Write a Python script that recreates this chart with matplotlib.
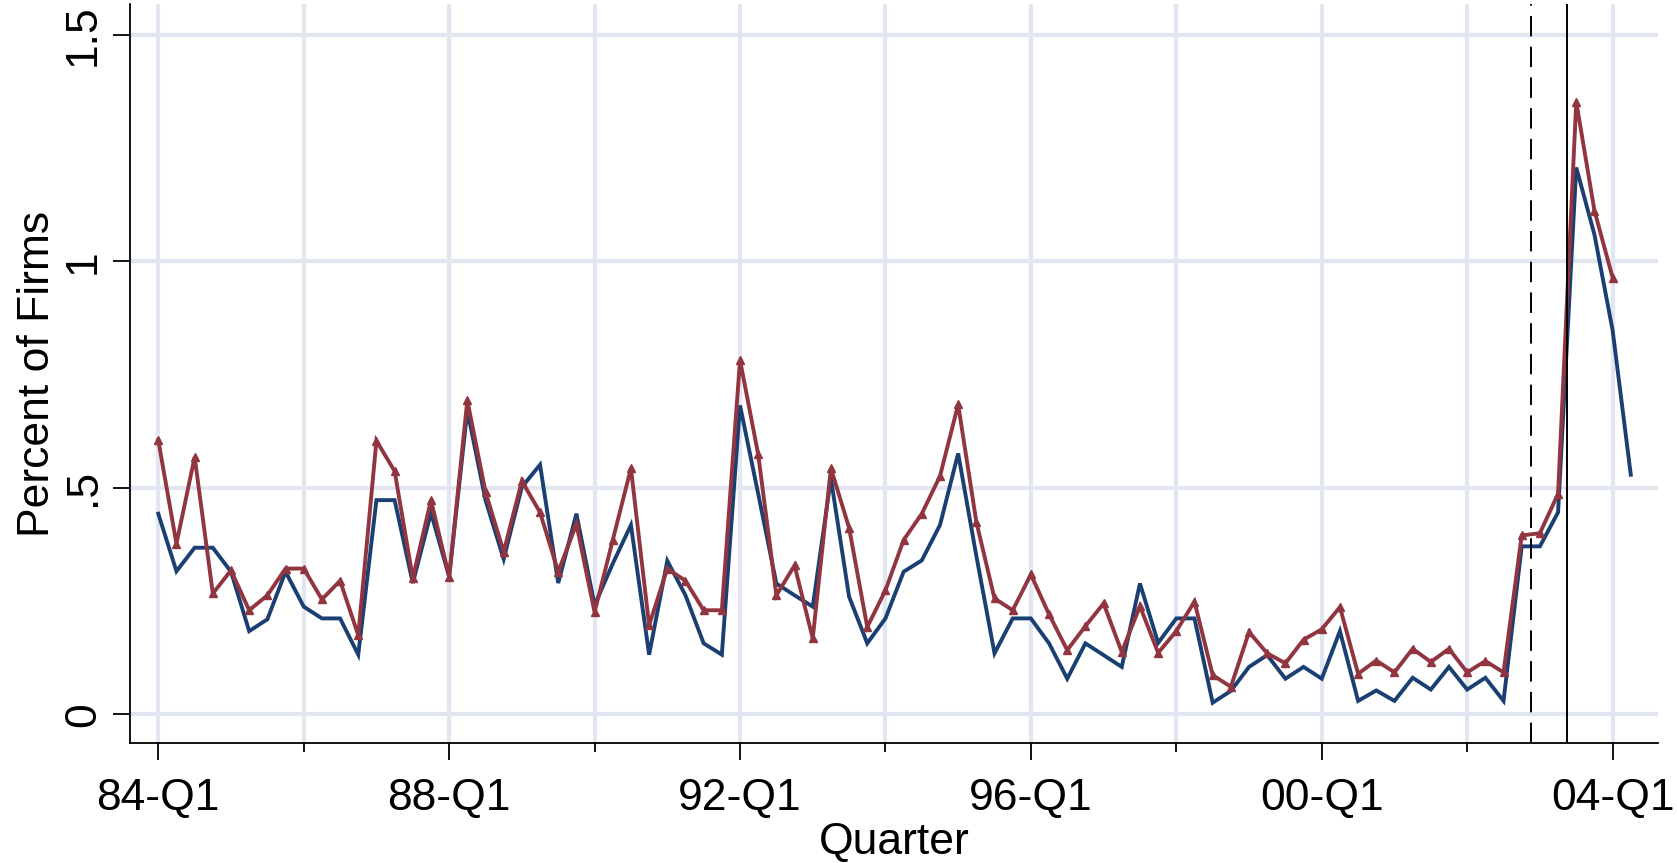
import matplotlib
matplotlib.use("Agg")
import matplotlib.pyplot as plt
import numpy as np

plt.rcParams['font.family'] = ['Liberation Sans', 'DejaVu Sans']

# ---- data ----
quarters_blue = list(range(82))   # 84-Q1 .. 04-Q2
quarters_red = list(range(81))    # 84-Q1 .. 04-Q1

red_values = [
    0.605, 0.377, 0.568, 0.267, 0.318, 0.230, 0.263, 0.322, 0.322, 0.254,
    0.295, 0.175, 0.604, 0.537, 0.301, 0.473, 0.304, 0.693, 0.491, 0.359,
    0.515, 0.446, 0.315, 0.420, 0.226, 0.385, 0.543, 0.197, 0.322, 0.295,
    0.230, 0.230, 0.782, 0.574, 0.263, 0.329, 0.168, 0.543, 0.412, 0.193,
    0.274, 0.385, 0.443, 0.526, 0.684, 0.425, 0.256, 0.230, 0.309, 0.221,
    0.142, 0.195, 0.245, 0.138, 0.239, 0.136, 0.184, 0.249, 0.087, 0.061,
    0.182, 0.135, 0.113, 0.165, 0.188, 0.237, 0.090, 0.119, 0.093, 0.145,
    0.116, 0.145, 0.093, 0.118, 0.093, 0.395, 0.400, 0.487, 1.352, 1.112,
    0.964,
]

blue_values = [
    0.443, 0.316, 0.368, 0.368, 0.315, 0.184, 0.210, 0.315, 0.238, 0.212,
    0.212, 0.132, 0.473, 0.473, 0.290, 0.445, 0.304, 0.671, 0.473, 0.343,
    0.502, 0.551, 0.290, 0.443, 0.241, 0.333, 0.418, 0.132, 0.339, 0.263,
    0.157, 0.132, 0.682, 0.487, 0.289, 0.263, 0.238, 0.521, 0.260, 0.157,
    0.212, 0.315, 0.340, 0.418, 0.576, 0.350, 0.135, 0.212, 0.212, 0.157,
    0.079, 0.157, 0.131, 0.105, 0.289, 0.158, 0.212, 0.212, 0.026, 0.052,
    0.105, 0.131, 0.079, 0.105, 0.079, 0.184, 0.030, 0.053, 0.030, 0.081,
    0.055, 0.105, 0.055, 0.081, 0.030, 0.371, 0.371, 0.446, 1.207, 1.059,
    0.848, 0.529,
]

xtick_pos = [0, 16, 32, 48, 64, 80]
xtick_labels = ["84-Q1", "88-Q1", "92-Q1", "96-Q1", "00-Q1", "04-Q1"]
xminor_pos = [8, 24, 40, 56, 72]
ytick_pos = [0, 0.5, 1.0, 1.5]
ytick_labels = ["0", ".5", "1", "1.5"]
event_dashed = 75.5
event_solid = 77.5

# ---- styling ----
BLUE = "#1a3f72"
RED = "#913540"
GRID = "#e1e6f0"
FS = 32

fig = plt.figure(figsize=(16.77, 8.63), dpi=100)
ax = fig.add_axes([0.0778, 0.139, 0.9109, 0.856])

ax.set_xlim(-1.53, 82.5)
ax.set_ylim(-0.063, 1.567)

# gridlines
for y in ytick_pos:
    ax.axhline(y, color=GRID, lw=3.0, zorder=0)
for x in xtick_pos + xminor_pos:
    ax.axvline(x, color=GRID, lw=3.0, zorder=0)

ax.plot(quarters_blue, blue_values, color=BLUE, lw=2.8, zorder=3,
        solid_joinstyle='miter')
ax.plot(quarters_red, red_values, color=RED, lw=2.8, marker='^',
        markersize=6, zorder=4, solid_joinstyle='miter')

ax.axvline(event_dashed, color='black', lw=1.4, ls=(0, (10.5, 5.3)), zorder=5)
ax.axvline(event_solid, color='black', lw=1.4, zorder=5)

for s in ['top', 'right']:
    ax.spines[s].set_visible(False)
for s in ['left', 'bottom']:
    ax.spines[s].set_linewidth(1.3)

ax.set_xticks(xtick_pos)
ax.set_xticklabels(xtick_labels)
ax.set_xticks(xminor_pos, minor=True)
ax.set_yticks(ytick_pos)
ax.set_yticklabels(ytick_labels, rotation=90, va='center')

ax.tick_params(axis='x', which='major', length=12, width=1.3, labelsize=FS, pad=13)
ax.tick_params(axis='x', which='minor', length=6.5, width=1.3)
ax.tick_params(axis='y', which='major', length=12, width=1.3, labelsize=FS, pad=7)

ax.set_xlabel("Quarter", fontsize=FS, labelpad=2)
ax.set_ylabel("Percent of Firms", fontsize=FS, labelpad=4)

fig.savefig("out.png", dpi=100)
